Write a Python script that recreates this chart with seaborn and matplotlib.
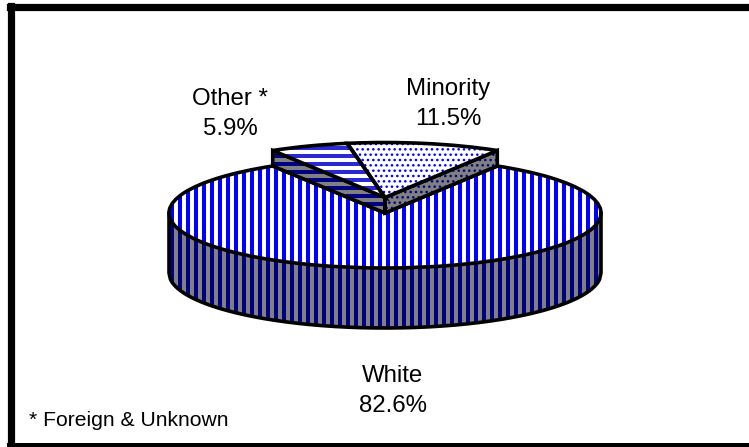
import numpy as np
import matplotlib
matplotlib.use("Agg")
import matplotlib.pyplot as plt
import seaborn as sns

categories = ["Other *", "Minority", "White"]
shares = [5.9, 11.5, 82.6]
footnote = "* Foreign & Unknown"

DPI = 96
W, H = 749, 447
# pie geometry in pixels
CX, CY = 385, 213
RX, RY = 216, 55
DEPTH = 60 / RY
LIFT = 15.5 / RY
# frame axes box in pixels
L, R, T, B = 10.5, 765, 6.5, 446
LINE = 2.7

BLUE = "#0000ff"
NAVY = "#000080"
GRAY = "#808080"

sns.set_theme(style="white")
plt.rcParams["font.family"] = ["Liberation Sans", "DejaVu Sans"]


def rim(angle):
    return np.cos(np.radians(angle)), np.sin(np.radians(angle))


def main():
    fig = plt.figure(figsize=(W / DPI, H / DPI), dpi=DPI)
    ax = fig.add_axes([L / W, 1 - B / H, (R - L) / W, (B - T) / H])

    start = 90 + (shares[0] + shares[1]) * 3.6 / 2
    pie_args = dict(startangle=start, counterclock=False, radius=1)

    # hatched layer and outline layer, hatch colour comes from the edge colour
    fills, _ = ax.pie(shares, wedgeprops=dict(facecolor="white", linewidth=0), **pie_args)
    lines, _ = ax.pie(shares, wedgeprops=dict(fill=False, edgecolor="black", linewidth=LINE), **pie_args)
    ax.set_aspect("auto")
    ax.set_xlim((L - CX) / RX, (R - CX) / RX)
    ax.set_ylim((CY - B) / RY, (CY - T) / RY)
    ax.set_xticks([])
    ax.set_yticks([])
    ax.set_frame_on(True)
    for side, lw in (("left", 5.4), ("top", 5.4), ("bottom", 4.5)):
        ax.spines[side].set_visible(True)
        ax.spines[side].set_color("black")
        ax.spines[side].set_linewidth(lw)
    ax.spines["right"].set_visible(False)

    styles = [("--", "#2a2ad0", 3.0), ("...", BLUE, 1.1), ("||", BLUE, 3.0)]
    for wedge, (hatch, edge, lw) in zip(fills, styles):
        wedge.set_hatch(hatch)
        wedge.set_edgecolor(edge)
        wedge.set_hatch_linewidth(lw)

    # outer wall of the big slice
    x = np.linspace(-1, 1, 300)
    low = -np.sqrt(1 - x ** 2)
    wall = ax.fill_between(x, low, low - DEPTH, facecolor=GRAY, edgecolor=NAVY, linewidth=0, hatch="||", zorder=1)
    wall.set_hatch_linewidth(3.0)
    ax.plot(np.r_[-1, x, 1], np.r_[0, low - DEPTH, 0], color="black", lw=LINE, zorder=2)

    # raised slices: cut faces first, then their tops
    a_other = start
    a_minor = start - (shares[0] + shares[1]) * 3.6
    for angle, hatch, lw in ((a_other, "--", 3.0), (a_minor, "...", 1.1)):
        rx, ry = rim(angle)
        px = [0, rx, rx, 0]
        py = [LIFT, ry + LIFT, ry, 0]
        face = ax.fill(px, py, facecolor=GRAY, edgecolor=NAVY, linewidth=0, hatch=hatch, zorder=3)[0]
        face.set_hatch_linewidth(lw)
        ax.fill(px, py, fill=False, edgecolor="black", linewidth=LINE, zorder=4)

    for wedge in fills[:2] + lines[:2]:
        wedge.set_center((0, LIFT))
        wedge.set_zorder(5)
    lines[2].set_zorder(2.5)

    def label(px, py, s, **kw):
        ax.text((px - CX) / RX, (CY - py) / RY, s, ha=kw.pop("ha", "center"), va="center",
                color="black", linespacing=1.5, **kw)

    label(230, 114, f"{categories[0]}\n{shares[0]}%", fontsize=18)
    label(448, 104, f"{categories[1]}\n{shares[1]}%", fontsize=18)
    label(393, 391, f"{categories[2]}\n{shares[2]}%", fontsize=18)
    label(29, 420, footnote, fontsize=15.8, ha="left")

    fig.savefig("out.png", dpi=DPI, facecolor="white")


if __name__ == "__main__":
    main()
